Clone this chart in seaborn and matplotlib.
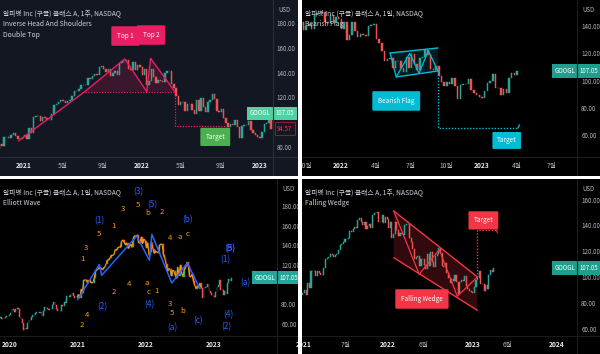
import numpy as np
import pandas as pd
import matplotlib
matplotlib.use("Agg")
import matplotlib.pyplot as plt
import matplotlib.dates as mdates
from matplotlib.patches import Rectangle
from matplotlib.lines import Line2D
import seaborn as sns

sns.set_theme(style="dark")
plt.rcParams['font.family'] = ['Noto Sans CJK KR', 'DejaVu Sans']

W, H = 600, 354
GREEN = '#26a69a'
RED = '#ef5350'

# weekly closes of GOOGL
close_2019 = [63.9, 65.3, 66.8, 64.9, 65.2, 66.3, 67.2, 67.8, 67.6]
close_2020 = [68.4, 71.4, 74.6, 73.6, 71.6, 74.8, 76.1, 74.5, 66.9,
              64.8, 60.6, 53.5, 55.5, 54.6, 60.2, 64.1, 63.6,
              66.5, 68.6, 68.7, 70.7, 71.5, 72.1, 70.9, 71.7, 67.5,
              73.0, 77.2, 75.8, 75.4, 74.4, 74.7, 75.5, 79.5, 81.7,
              79.5, 75.5, 72.5, 72.6, 73.3, 78.6, 78.3, 82.3, 80.8,
              87.8, 88.1, 86.8, 89.5, 90.9, 88.7, 86.0, 86.4]
close_2021 = [87.6, 89.8, 86.4, 95.1, 91.4, 104.4, 104.8, 104.5, 101.1,
              104.4, 102.9, 101.7, 101.9, 106.7, 113.6, 114.8, 115.8, 117.7,
              117.0, 115.3, 116.9, 117.8, 120.8, 125.0, 125.3, 126.8,
              129.8, 129.8, 130.3, 135.6, 135.2, 137.4, 138.6, 138.0, 144.2,
              145.6, 142.8, 140.6, 142.6, 136.9, 139.8, 141.3, 138.0, 148.0,
              149.8, 149.8, 150.5, 142.8, 142.4, 148.4, 142.0, 146.6, 144.9]
close_2022 = [137.7, 142.6, 130.0, 133.5, 143.0, 136.6, 131.9, 134.3,
              133.2, 132.4, 140.0, 141.1, 141.4, 130.5, 127.3, 121.4, 114.1,
              115.9, 116.2, 108.9, 114.2, 114.2, 109.4, 106.5, 117.5,
              108.9, 119.7, 111.8, 107.9, 116.3, 117.5, 122.7, 119.0, 108.7,
              107.8, 110.6, 103.4, 99.2, 95.7, 98.7, 97.3, 101.5, 96.3,
              86.7, 96.4, 97.5, 97.3, 100.8, 93.1, 90.9, 89.2, 88.2]
close_2023 = [87.3, 92.1, 98.0, 99.4, 104.8, 94.57, 94.4, 89.4,
              93.7, 90.6, 101.6, 105.4, 103.7, 107.05]

closes = np.array(close_2019 + close_2020 + close_2021 + close_2022 + close_2023)
opens = np.r_[closes[0], closes[:-1]]
weeks = pd.date_range('2019-10-28', periods=len(closes), freq='W-MON')
last_price = 107.05

# pattern points
dt_top_dates = ['2020-12-16', '2021-07-09', '2021-11-10', '2022-01-17', '2022-01-29', '2022-04-14']
dt_top_prices = [84.6, 124.6, 151.1, 124.6, 151.6, 124.6]
dt_target_dates = ['2022-04-14', '2022-04-14', '2022-09-20']
dt_target_prices = [124.6, 97.0, 97.0]

flag_upper_dates = ['2022-05-09', '2022-09-10']
flag_upper_prices = [120.2, 123.9]
flag_lower_dates = ['2022-05-25', '2022-09-10']
flag_lower_prices = [102.6, 107.0]
flag_zig_dates = ['2022-05-09', '2022-05-25', '2022-06-29', '2022-07-23', '2022-08-16', '2022-09-10']
flag_zig_prices = [120.2, 102.6, 120.0, 105.3, 121.9, 107.0]
flag_target_dates = ['2022-09-10', '2022-09-10', '2023-04-05', '2023-04-09']
flag_target_prices = [107.0, 65.1, 65.1, 67.5]

wave_dates = ['2020-12-30', '2021-04-26', '2021-05-08', '2021-11-12', '2022-01-19',
              '2022-02-01', '2022-05-19', '2022-08-10', '2022-10-17']
wave_prices = [84.5, 120.7, 109.4, 149.6, 124.8, 151.4, 101.6, 122.0, 95.7]
minor_labels = ['1', '3', '5', '1', '3', '5', 'b', '2', '4', 'a', 'c',
                '2', '4', '2', '4', 'a', 'c', '1', '3', '5', 'b']
minor_dates = ['2021-01-23', '2021-02-14', '2021-04-24', '2021-07-08', '2021-08-31',
               '2021-11-19', '2022-01-12', '2022-03-24', '2022-05-10', '2022-07-02',
               '2022-08-09', '2021-01-23', '2021-02-19', '2021-07-14', '2021-10-02',
               '2022-01-05', '2022-01-16', '2022-02-27', '2022-05-10', '2022-05-21',
               '2022-07-18']
minor_prices = [126.1, 137.4, 151.7, 159.9, 177.2, 181.3, 173.1, 174.2, 147.6, 148.6,
                151.7, 58.6, 68.8, 92.4, 100.6, 101.5, 92.5, 93.3, 80.1, 70.9, 72.8]
major_labels = ['(3)', '(5)', '(1)', '(b)', '(B)', '(5)', '(1)', '(2)', '(4)',
                '(a)', '(c)', '(4)', '(2)', '(a)']
major_dates = ['2021-11-19', '2022-02-03', '2021-04-24', '2022-08-09', '2023-03-27',
               '2023-03-31', '2023-03-01', '2021-05-10', '2022-01-18', '2022-05-21',
               '2022-10-07', '2023-03-18', '2023-03-07', '2023-06-18']
major_prices = [194.6, 181.3, 165.0, 165.9, 136.3, 136.3, 125.0, 77.0, 79.0,
                55.5, 62.6, 68.8, 56.5, 101.5]

wedge_upper_dates = ['2022-01-25', '2023-01-22']
wedge_upper_prices = [151.2, 100.1]
wedge_lower_prices = [115.0, 74.2]
wedge_zig_dates = ['2022-01-25', '2022-05-15', '2022-08-10', '2022-10-27', '2023-01-22']
wedge_zig_prices = [151.2, 102.2, 121.2, 85.1, 100.1]
wedge_target_dates = ['2023-01-22', '2023-01-22', '2023-04-15', '2023-04-18']
wedge_target_prices = [100.1, 136.3, 136.3, 134.5]


def dn(dates):
    return mdates.date2num(pd.to_datetime(dates))


def rect(x0, y0, x1, y1):
    return [x0 / W, 1 - y1 / H, (x1 - x0) / W, (y1 - y0) / H]


def candles(ax, start, end, width):
    m = (weeks >= start) & (weeks <= end)
    d = dn(weeks[m])
    o, c = opens[m], closes[m]
    up = c >= o
    for sel, col in ((up, GREEN), (~up, RED)):
        ax.bar(d[sel], c[sel] - o[sel], bottom=o[sel], width=width,
               color=col, edgecolor=col, linewidth=0.35, zorder=3)


def path(ax, dates, prices, color, lw=0.9, ls='-'):
    sns.lineplot(x=dn(dates), y=prices, ax=ax, color=color, linewidth=lw,
                 linestyle=ls, sort=False, estimator=None, zorder=5)


def tag(ax, date, price, text, color, pad=0.75):
    ax.text(dn([date])[0], price, text, ha='center', va='center', fontsize=4.6,
            color='white', zorder=8,
            bbox=dict(boxstyle=f'round,pad={pad},rounding_size=0.15', fc=color, ec='none'))


def setup(ax, bg, xlim, ylim, yticks, xticks, xlabels, titles, label_col, label_txt='white'):
    ax.set_facecolor(bg)
    ax.set_xlim(dn(xlim))
    ax.set_ylim(ylim)
    for s in ax.spines.values():
        s.set_visible(False)
    ax.grid(False)
    ax.set_xlabel('')
    ax.set_ylabel('')
    ax.yaxis.tick_right()
    ax.set_yticks(yticks, labels=[f'{t:.2f}' for t in yticks])
    ax.set_xticks(dn(xticks), labels=xlabels)
    ax.tick_params(axis='y', length=0, pad=3, labelsize=4.5, labelcolor='#b2b5be')
    ax.tick_params(axis='x', length=0, pad=3.5, labelsize=4.8, labelcolor='#b2b5be')
    for lab in ax.get_xticklabels():
        if lab.get_text().isdigit():
            lab.set_color('#e6e8ee')
            lab.set_fontweight('bold')
    ax.text(1.02, 0.935, 'USD', transform=ax.transAxes, fontsize=4.4,
            color='#b2b5be', ha='left', va='center', clip_on=False)
    for i, t in enumerate(titles):
        ax.text(0.011, 0.915 - i * 0.07, t, transform=ax.transAxes, fontsize=4.9,
                color='#d1d4dc', ha='left', va='center', zorder=9)
    tr = ax.get_yaxis_transform()
    ax.text(0.994, last_price, 'GOOGL', transform=tr, ha='right', va='center',
            fontsize=4.4, color=label_txt, clip_on=False, zorder=10,
            bbox=dict(boxstyle='square,pad=0.45', fc=label_col, ec='none'))
    ax.text(1.01, last_price, '107.05', transform=tr, ha='left', va='center',
            fontsize=4.4, color=label_txt, clip_on=False, zorder=10,
            bbox=dict(boxstyle='square,pad=0.45', fc=label_col, ec='none'))


fig = plt.figure(figsize=(6, 3.54), dpi=100, facecolor='white')

panels = [((0, 0, 298, 176), '#131722'), ((302, 0, 600, 176), '#000000'),
          ((0, 179, 298, 354), '#000000'), ((302, 179, 600, 354), '#000000')]
for (x0, y0, x1, y1), col in panels:
    fig.add_artist(Rectangle((x0 / W, 1 - y1 / H), (x1 - x0) / W, (y1 - y0) / H,
                             transform=fig.transFigure, fc=col, ec='none', zorder=-5))

ax1 = fig.add_axes(rect(0, 0, 272.5, 157.5))
ax2 = fig.add_axes(rect(302, 0, 577, 157.5))
ax3 = fig.add_axes(rect(0, 179, 277, 336))
ax4 = fig.add_axes(rect(302, 179, 577, 336))

# ---- panel 1: double top
candles(ax1, '2020-10-01', '2023-02-06', 4.5)
PINK = '#e91e63'
ax1.fill(dn(dt_top_dates[1:]), dt_top_prices[1:], color=PINK, alpha=0.18, lw=0, zorder=2)
path(ax1, dt_top_dates, dt_top_prices, PINK, lw=1.0)
path(ax1, [dt_top_dates[1], dt_top_dates[-1]], [124.6, 124.6], PINK, lw=0.9, ls=(0, (1, 1.2)))
path(ax1, dt_target_dates, dt_target_prices, PINK, lw=0.9, ls=(0, (1, 1.2)))
tag(ax1, '2021-11-12', 169.7, 'Top 1', PINK, pad=0.9)
tag(ax1, '2022-01-30', 170.5, 'Top 2', PINK, pad=0.9)
tag(ax1, '2022-08-17', 87.9, 'Target', '#4caf50', pad=0.8)
setup(ax1, '#131722', ['2020-10-20', '2023-02-10'], (71.2, 198.9),
      [80, 120, 140, 160, 180],
      ['2021-01-01', '2021-05-01', '2021-09-01', '2022-01-01', '2022-05-01', '2022-09-01', '2023-01-01'],
      ['2021', '5월', '9월', '2022', '5월', '9월', '2023'],
      ['알파벳 Inc (구글) 클래스 A, 1주, NASDAQ', 'Inverse Head And Shoulders', 'Double Top'],
      '#4fd1a1')
ax1.text(1.017, 94.57, '94.57', transform=ax1.get_yaxis_transform(), ha='left', va='center',
         fontsize=4.4, color='#f23645', clip_on=False, zorder=10,
         bbox=dict(boxstyle='square,pad=0.4', fc='#131722', ec='#8e1c2a', lw=0.8))

# ---- panel 2: bearish flag
CYAN = '#00bcd4'
candles(ax2, '2021-09-13', '2023-04-10', 4.0)
ax2.fill(dn(flag_upper_dates + flag_lower_dates[::-1]),
         flag_upper_prices + flag_lower_prices[::-1], color=CYAN, alpha=0.15, lw=0, zorder=2)
path(ax2, flag_upper_dates, flag_upper_prices, CYAN, lw=1.0)
path(ax2, flag_lower_dates, flag_lower_prices, CYAN, lw=1.0)
path(ax2, flag_zig_dates, flag_zig_prices, CYAN, lw=0.9)
path(ax2, flag_target_dates[:3], flag_target_prices[:3], CYAN, lw=1.0, ls=(0, (1, 1.2)))
path(ax2, flag_target_dates[2:], flag_target_prices[2:], CYAN, lw=0.9)
tag(ax2, '2022-05-25', 85.0, 'Bearish Flag', CYAN, pad=0.9)
tag(ax2, '2023-03-07', 56.0, 'Target', CYAN, pad=0.7)
setup(ax2, '#000000', ['2021-09-23', '2023-09-05'], (43.5, 159.1),
      [60, 80, 100, 120, 140],
      ['2021-10-01', '2022-01-01', '2022-04-01', '2022-07-01', '2022-10-01', '2023-01-01', '2023-04-01', '2023-07-01'],
      ['10월', '2022', '4월', '7월', '10월', '2023', '4월', '7월'],
      ['알파벳 Inc (구글) 클래스 A, 1일, NASDAQ', 'Bearish Flag'],
      '#1e9e8c')

# ---- panel 3: elliott wave
BLUE = '#2962ff'
ORANGE = '#ff9800'
candles(ax3, '2019-10-01', '2023-04-10', 4.0)
m = (weeks >= '2020-12-28') & (weeks <= '2022-10-24')
path(ax3, weeks[m], closes[m], ORANGE, lw=0.8)
path(ax3, wave_dates, wave_prices, BLUE, lw=1.1)
for t, d, p in zip(minor_labels, minor_dates, minor_prices):
    ax3.text(dn([d])[0], p, t, color=ORANGE, fontsize=5.6, ha='center', va='center', zorder=7)
for t, d, p in zip(major_labels, major_dates, major_prices):
    ax3.text(dn([d])[0], p, t, color=BLUE, fontsize=6.0, ha='center', va='center', zorder=7)
setup(ax3, '#000000', ['2019-11-10', '2023-12-04'], (47.4, 207.9),
      [60, 80, 120, 140, 160, 180],
      ['2020-01-01', '2021-01-01', '2022-01-01', '2023-01-01'],
      ['2020', '2021', '2022', '2023'],
      ['알파벳 Inc (구글) 클래스 A, 1일, NASDAQ', 'Elliott Wave'],
      '#26a69a')

# ---- panel 4: falling wedge
WRED = '#f23645'
candles(ax4, '2020-12-14', '2023-04-10', 4.5)
ax4.fill(dn(wedge_upper_dates + wedge_upper_dates[::-1]),
         wedge_upper_prices + wedge_lower_prices[::-1], color=WRED, alpha=0.2, lw=0, zorder=2)
path(ax4, wedge_upper_dates, wedge_upper_prices, WRED, lw=1.0)
path(ax4, wedge_upper_dates, wedge_lower_prices, WRED, lw=1.0)
path(ax4, wedge_zig_dates, wedge_zig_prices, WRED, lw=0.9)
path(ax4, wedge_target_dates[:3], wedge_target_prices[:3], WRED, lw=1.0, ls=(0, (1, 1.2)))
path(ax4, wedge_target_dates[2:], wedge_target_prices[2:], WRED, lw=0.9)
tag(ax4, '2022-05-27', 83.0, 'Falling Wedge', WRED, pad=0.9)
tag(ax4, '2023-02-17', 143.9, 'Target', WRED, pad=0.8)
setup(ax4, '#000000', ['2020-12-24', '2024-03-28'], (54.3, 176.0),
      [60, 80, 100, 120, 140, 160],
      ['2021-01-01', '2021-07-01', '2022-01-01', '2022-06-01', '2023-01-01', '2023-06-01', '2024-01-01'],
      ['2021', '7월', '2022', '6월', '2023', '6월', '2024'],
      ['알파벳 Inc (구글) 클래스 A, 1주, NASDAQ', 'Falling Wedge'],
      '#1e9e8c')

# separators of price / time scales
seps = [((272.5, 272.5), (0, 176), '#2a2e39'), ((0, 298), (157.5, 157.5), '#2a2e39'),
        ((577, 577), (0, 176), '#1c1c1c'), ((302, 600), (157.5, 157.5), '#1c1c1c'),
        ((277, 277), (179, 354), '#1c1c1c'), ((0, 298), (336, 336), '#1c1c1c'),
        ((577, 577), (179, 354), '#1c1c1c'), ((302, 600), (336, 336), '#1c1c1c')]
for xs, ys, col in seps:
    fig.add_artist(Line2D([x / W for x in xs], [1 - y / H for y in ys],
                          transform=fig.transFigure, color=col, lw=0.8, zorder=1))

# white gaps between the four panels
fig.add_artist(Rectangle((298 / W, 0), 4 / W, 1, transform=fig.transFigure,
                         fc='white', ec='none', zorder=20))
fig.add_artist(Rectangle((0, 1 - 179 / H), 1, 3 / H, transform=fig.transFigure,
                         fc='white', ec='none', zorder=20))

fig.savefig('out.png', dpi=100, facecolor='white')
